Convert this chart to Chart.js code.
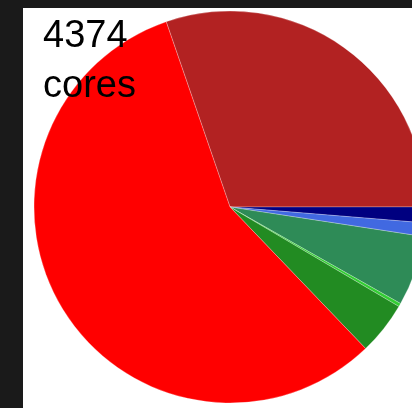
<!DOCTYPE html>
<html>
<head>
<meta charset="utf-8">
<script src="https://cdn.jsdelivr.net/npm/chart.js@4"></script>
<style>
  html, body { margin: 0; padding: 0; background: #1a1a1a; overflow: hidden; }
  #panel { position: absolute; left: 23px; top: 8px; width: 389px; height: 400px; background: #fff; overflow: hidden; }
  #pie { position: absolute; left: 0; top: 0; }
  #total { position: absolute; left: 20px; top: 1px; font: 38px/50px "Liberation Sans", sans-serif; color: #000; }
</style>
</head>
<body>
<div id="panel">
  <canvas id="pie" width="414" height="398"></canvas>
  <div id="total">4374<br>cores</div>
</div>
<script>
const labels = ['A', 'B', 'C', 'D', 'E', 'F', 'G'];
const cores = [1324, 57, 49, 253, 12, 191, 2488];
const colors = ['#b22222', '#000080', '#4169e1', '#2e8b57', '#32cd32', '#228b22', '#ff0000'];

const ctx = document.getElementById('pie').getContext('2d');
new Chart(ctx, {
  type: 'pie',
  data: {
    labels: labels,
    datasets: [{ data: cores, backgroundColor: colors, borderColor: 'rgba(255,255,255,0.5)', borderWidth: 0.5 }]
  },
  options: {
    responsive: false,
    animation: false,
    devicePixelRatio: 1,
    rotation: -19,
    radius: 196,
    layout: { padding: 0 },
    plugins: { legend: { display: false }, tooltip: { enabled: false } }
  }
});
</script>
</body>
</html>
